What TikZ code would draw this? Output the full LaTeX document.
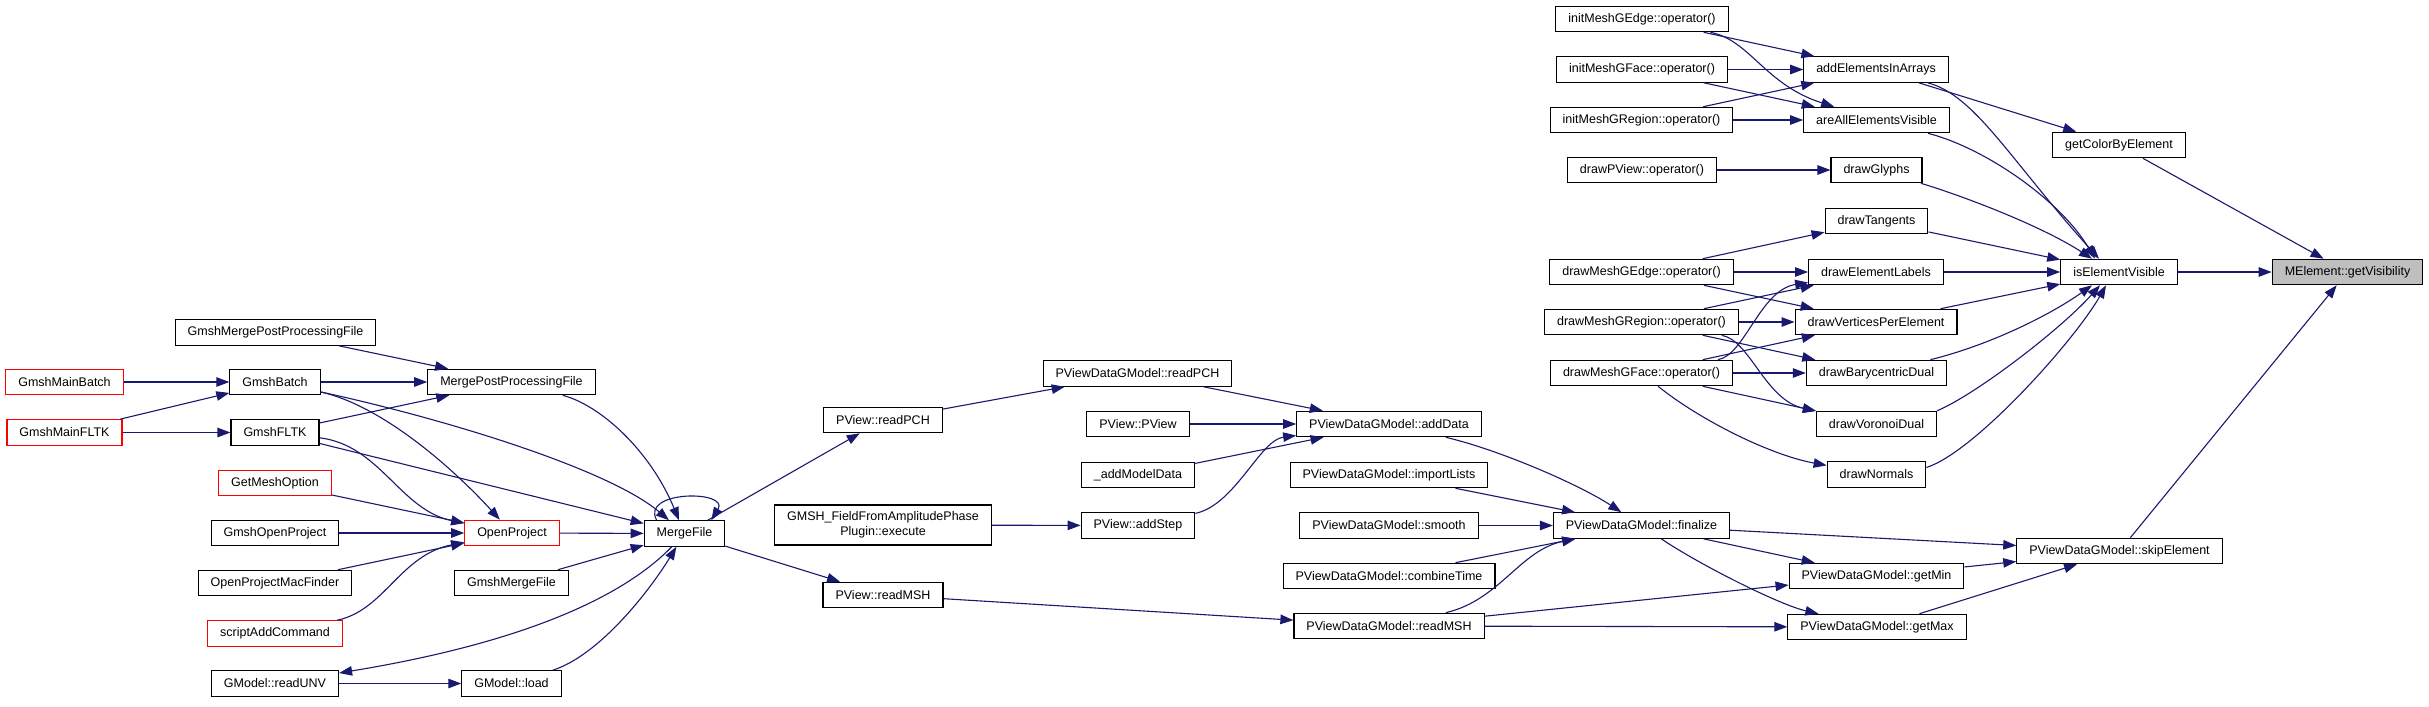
\documentclass[tikz,border=0pt]{standalone}
\usepackage{fontspec}
\setmainfont{Liberation Sans}
\usetikzlibrary{arrows.meta}
\definecolor{callblue}{HTML}{191970}
\definecolor{rootgray}{HTML}{BFBFBF}
\tikzset{fn/.style = {draw=black, fill=white, line width=1.1pt, minimum height=25.5pt,
    inner xsep=12.5pt, inner ysep=0pt, font=\fontsize{12.5}{15}\selectfont}}
\tikzset{fnred/.style = {fn, draw=red}}
\tikzset{fnroot/.style = {fn, fill=rootgray}}
\tikzset{call/.style = {draw=callblue, line width=1.1pt, -{Triangle[length=13pt,width=9.5pt]}}}

\begin{document}
\begin{tikzpicture}[x=1pt, y=-1pt]
    \useasboundingbox (0,0) rectangle (2429,707);
    \fill[white] (0,0) rectangle (2429,707);
    % functions (red frame: no further callers shown)
    \foreach \n/\x/\y/\t in {gmshmainbatch/64.5/382/GmshMainBatch, gmshmainfltk/64.5/432.5/GmshMainFLTK,
        getmeshoption/275/483/GetMeshOption, openproject/512/533/OpenProject,
        scriptaddcommand/275/633.5/scriptAddCommand} {
        \node[fnred] (\n) at (\x,\y) {\t};
    }
    \foreach \n/\x/\y/\t in {gmshmergepp/275.5/332.5/GmshMergePostProcessingFile,
        gmshbatch/275/382/GmshBatch, gmshfltk/275/432.5/GmshFLTK,
        gmshopenproject/275/533/GmshOpenProject, openprojectmac/275/583/OpenProjectMacFinder,
        readunv/275/683.5/GModel::readUNV, mergepp/511.5/382/MergePostProcessingFile,
        gmshmergefile/511.5/583/GmshMergeFile, gmodelload/511.5/683.5/GModel::load,
        mergefile/684.5/533.5/MergeFile, pviewreadpch/883/420/PView::readPCH,
        pviewreadmsh/883/595/PView::readMSH, datareadpch/1137.5/373.5/PViewDataGModel::readPCH,
        pviewpview/1138/424/PView::PView, addmodeldata/1138/475/\_addModelData,
        addstep/1138/525.5/PView::addStep, adddata/1389/424/PViewDataGModel::addData,
        importlists/1389/475/PViewDataGModel::importLists, smooth/1389/525.5/PViewDataGModel::smooth,
        combinetime/1389/576/PViewDataGModel::combineTime, datareadmsh/1389/626/PViewDataGModel::readMSH,
        finalize/1641.5/525.5/PViewDataGModel::finalize, getmin/1876.5/576/PViewDataGModel::getMin,
        getmax/1877/627/PViewDataGModel::getMax, skipelement/2119.5/551/PViewDataGModel::skipElement,
        initgedge/1642/19/initMeshGEdge::operator(), initgface/1642/69.5/initMeshGFace::operator(),
        initgregion/1641.5/120/initMeshGRegion::operator(), drawpview/1642/170/drawPView::operator(),
        drawgedge/1641.5/272/drawMeshGEdge::operator(), drawgregion/1641.5/322/drawMeshGRegion::operator(),
        drawgface/1641.5/373/drawMeshGFace::operator(), addelements/1876/69.5/addElementsInArrays,
        areallvisible/1876.5/120/areAllElementsVisible, drawglyphs/1876.5/170/drawGlyphs,
        drawtangents/1876.5/221/drawTangents, drawlabels/1876/272/drawElementLabels,
        drawvertices/1876/322/drawVerticesPerElement, drawbary/1876.5/373/drawBarycentricDual,
        drawvoronoi/1876.5/424/drawVoronoiDual, drawnormals/1876.5/474.5/drawNormals,
        getcolor/2119/145/getColorByElement, iselemvisible/2119/272/isElementVisible} {
        \node[fn] (\n) at (\x,\y) {\t};
    }
    \node[fn, align=center, minimum height=40pt] (fieldplugin) at (883,525)
        {GMSH\_FieldFromAmplitudePhase\\Plugin::execute};
    \node[fnroot] (getvisibility) at (2347.5,272) {MElement::getVisibility};

    % straight calls
    \foreach \a/\b in {gmshmainbatch/gmshbatch, gmshmainfltk/gmshbatch, gmshmainfltk/gmshfltk,
        gmshmergepp/mergepp, gmshbatch/mergepp, gmshfltk/mergepp, gmshfltk/mergefile,
        getmeshoption/openproject, gmshopenproject/openproject, openprojectmac/openproject,
        openproject/mergefile, gmshmergefile/mergefile, readunv/gmodelload,
        mergefile/pviewreadpch, mergefile/pviewreadmsh, pviewreadpch/datareadpch,
        pviewreadmsh/datareadmsh, fieldplugin/addstep, datareadpch/adddata, pviewpview/adddata,
        addmodeldata/adddata, importlists/finalize, smooth/finalize, combinetime/finalize,
        datareadmsh/getmin, datareadmsh/getmax, finalize/getmin, finalize/skipelement,
        getmin/skipelement, getmax/skipelement, skipelement/getvisibility,
        initgedge/addelements, initgface/addelements, initgregion/addelements,
        initgface/areallvisible, initgregion/areallvisible, addelements/getcolor,
        getcolor/getvisibility, iselemvisible/getvisibility, drawpview/drawglyphs,
        drawgedge/drawtangents, drawgedge/drawlabels, drawgedge/drawvertices,
        drawgregion/drawlabels, drawgregion/drawvertices, drawgregion/drawbary,
        drawgface/drawvertices, drawgface/drawbary, drawgface/drawvoronoi,
        drawtangents/iselemvisible, drawlabels/iselemvisible, drawvertices/iselemvisible} {
        \draw[call] (\a) -- (\b);
    }

    % curved calls, left part
    \draw[call] (gmshbatch) .. controls (380,405) and (450,465) .. (openproject);
    \draw[call] (gmshbatch) .. controls (450,420) and (610,470) .. (mergefile);
    \draw[call] (mergepp) .. controls (600,405) and (650,450) .. (mergefile);
    \draw[call] (gmshfltk) .. controls (380,445) and (400,510) .. (openproject);
    \draw[call] (scriptaddcommand) .. controls (385,610) and (400,555) .. (openproject);
    \draw[call] (mergefile) .. controls (630,590) and (540,640) .. (readunv);
    \draw[call] (gmodelload) .. controls (600,655) and (650,590) .. (mergefile);
    \draw[call] ([xshift=13pt]mergefile.north west) .. controls (640,490) and (730,490)
        .. ([xshift=-14pt]mergefile.north east);

    % curved calls, middle part
    \draw[call] (addstep) .. controls (1235,505) and (1260,440) .. (adddata);
    \draw[call] (adddata) .. controls (1500,450) and (1580,485) .. (finalize);
    \draw[call] (datareadmsh) .. controls (1500,600) and (1520,550) .. (finalize);
    \draw[call] (finalize) .. controls (1700,565) and (1780,605) .. (getmax);

    % curved calls, right part
    \draw[call] (initgedge) .. controls (1750,40) and (1765,85) .. (areallvisible);
    \draw[call] (drawgregion) .. controls (1750,340) and (1765,400) .. (drawvoronoi);
    \draw[call] (drawgface) .. controls (1745,355) and (1760,290) .. (drawlabels);
    \draw[call] (drawgface) .. controls (1700,420) and (1770,455) .. (drawnormals);
    \draw[call] (addelements) .. controls (1975,95) and (2010,160) .. ([xshift=-20pt]iselemvisible.north);
    \draw[call] (areallvisible) .. controls (1985,148) and (2060,200) .. ([xshift=-24pt]iselemvisible.north);
    \draw[call] (drawglyphs) .. controls (1960,195) and (2040,225) .. ([xshift=-27pt]iselemvisible.north);
    \draw[call] (drawbary) .. controls (1990,345) and (2050,315) .. ([xshift=-27pt]iselemvisible.south);
    \draw[call] (drawvoronoi.north east) .. controls (1975,395) and (2060,330) .. ([xshift=-19pt]iselemvisible.south);
    \draw[call] ([yshift=7pt]drawnormals.east) .. controls (1975,452) and (2075,340) .. ([xshift=-13pt]iselemvisible.south);
\end{tikzpicture}
\end{document}
